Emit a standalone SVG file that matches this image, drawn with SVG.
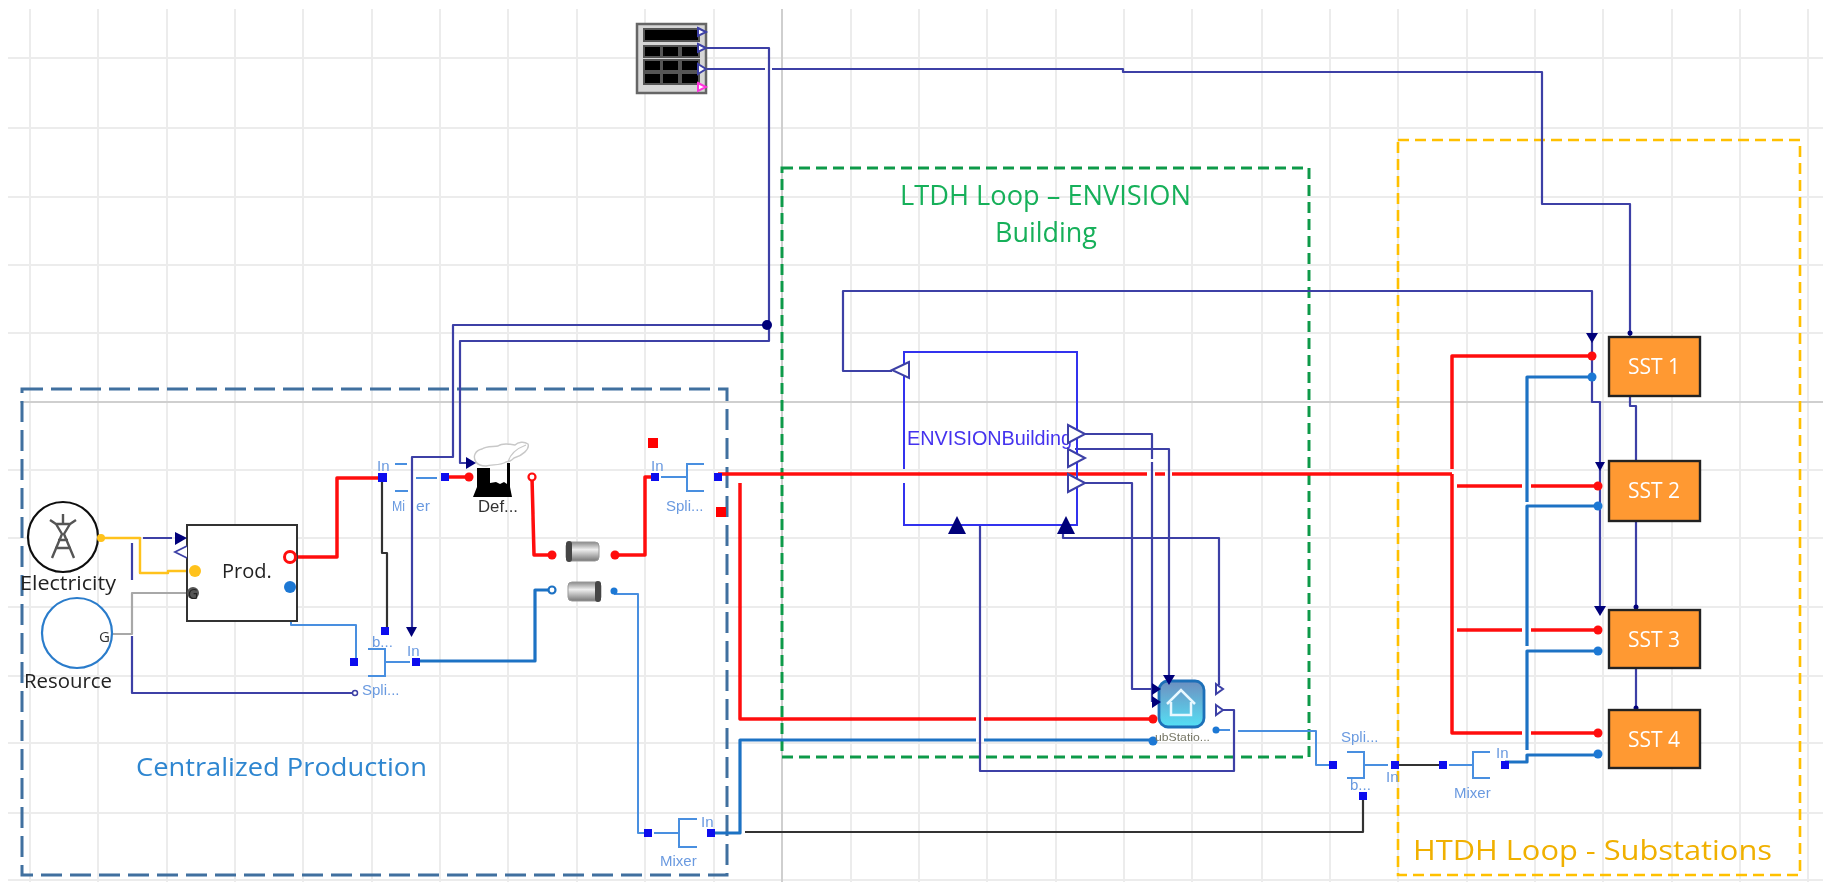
<svg xmlns="http://www.w3.org/2000/svg" width="1823" height="882" viewBox="0 0 1823 882">
<style>
text{font-family:"Liberation Sans",Arial,sans-serif}
.g{stroke:#ececec;stroke-width:2;fill:none}
.gd{stroke:#cfcfcf;stroke-width:2;fill:none}
.c{fill:none;stroke-linejoin:round}
.red{stroke:#ff0a0a;stroke-width:3.5}
.blue{stroke:#1f72c4;stroke-width:3.2}
.lb{stroke:#4a8fe0;stroke-width:2}
.dk{stroke:#3c40a6;stroke-width:2.2}
.bk{stroke:#333;stroke-width:2.2}
.yl{stroke:#ffc21a;stroke-width:2.4}
.gy{stroke:#a8a8a8;stroke-width:2.2}
.sq{fill:#0808ee}
.lab{fill:#6a9ae0;font-size:15px}
.hol{fill:#fff;stroke:#3c40a6;stroke-width:2}
.fil{fill:#00007a}
.br{fill:none;stroke:#4a8fe0;stroke-width:2}
.sst{fill:#ff9933;stroke:#222;stroke-width:2.4}
.sstt{fill:#fff;font-size:21px;text-anchor:middle;font-family:"Open Sans",sans-serif}
.cal{font-family:"Open Sans",sans-serif}
.rd{fill:#ff0a0a}.bd{fill:#1f78d4}
</style>
<defs>
<linearGradient id="pipeg" x1="0" y1="0" x2="0" y2="1"><stop offset="0" stop-color="#8a8a8a"/><stop offset="0.4" stop-color="#eeeeee"/><stop offset="1" stop-color="#777"/></linearGradient>
<linearGradient id="houseg" x1="0" y1="0" x2="0" y2="1"><stop offset="0" stop-color="#6d8fc0"/><stop offset="1" stop-color="#55e0f5"/></linearGradient>
<filter id="soft" filterUnits="userSpaceOnUse" x="0" y="0" width="1823" height="882"><feGaussianBlur stdDeviation="0.5"/></filter>
</defs>
<rect width="1823" height="882" fill="#fff"/>
<g id="diagram" filter="url(#soft)">
<g id="grid">
<path class="g" d="M30 9V882M98 9V882M167 9V882M235 9V882M303 9V882M372 9V882M440 9V882M508 9V882M577 9V882M645 9V882M714 9V882M851 9V882M919 9V882M987 9V882M1056 9V882M1124 9V882M1192 9V882M1262 9V882M1330 9V882M1398 9V882M1467 9V882M1535 9V882M1603 9V882M1672 9V882M1740 9V882M1808 9V882"/>
<path class="g" d="M8 58H1823M8 128H1823M8 197H1823M8 265H1823M8 333H1823M8 470H1823M8 538H1823M8 607H1823M8 676H1823M8 743H1823M8 813H1823M8 880H1823"/>
<path class="gd" d="M782 9V882M20 402H1823"/>
</g>
<g id="regions" fill="none">
<path id="region-production" d="M22 389H727V875H22Z" stroke="#3f6f9f" stroke-width="3" stroke-dasharray="21 8"/>
<path id="region-ltdh" d="M782 168H1309V757H782Z" stroke="#0f9a4a" stroke-width="3" stroke-dasharray="11 6"/>
<path id="region-htdh" d="M1398 140H1800V875H1398Z" stroke="#ffc000" stroke-width="2.600" stroke-dasharray="11 6"/>
</g>
<g id="connectors">
<path class="c yl" d="M103 538H140V573H168V571H192"/>
<path class="c gy" d="M105 634H132V593H190"/>
<path class="c dk" d="M143 538H172M132 543V580M132 636V693H353"/>
<path class="c red" d="M296 557H337V478H382"/>
<path class="c bk" d="M382 478V553H387V630"/>
<path class="c lb" d="M291 590V625H356V660"/>
<path class="c blue" d="M416 661H535V590H548"/>
<path class="c red" d="M445 477H468"/>
<path class="c red" d="M532 477L534 555H550"/>
<path class="c red" d="M616 555H645V477H655"/>
<path class="c lb" d="M614 594H638V833H650"/>
<path class="c red" d="M718 474H1147M1155 474H1165M1172 474H1452"/>
<path class="c red" d="M1592 356H1452V469M1452 474V733H1522M1531 733H1596M1457 486H1522M1531 486H1596M1457 630H1522M1531 630H1596"/>
<path class="c red" d="M740 483V719H976M984 719H1153"/>
<path class="c blue" d="M711 833H740V740H976M984 740H1153"/>
<path class="c blue" d="M1505 762H1527V755H1596M1527 750V651H1596M1527 646V506H1596M1527 502V377H1590"/>
<path class="c lb" d="M1216 730H1230M1238 731H1316V765H1332"/>
<path class="c bk" d="M1395 765H1443M1363 796V832H745"/>
<path class="c dk" d="M705 48H769V341H460V463H468"/>
<path class="c dk" d="M767 325H453V457H412V628"/>
<path class="c dk" d="M705 69H765M772 69H1123V72H1542V204H1630V337"/>
<path class="c dk" d="M892 371H843V291H1592V402H1600V608"/>
<path class="c dk" d="M1630 396V406H1636V461M1636 521V610M1636 668V710"/>
<path class="c dk" d="M1085 434H1152V459M1152 462V702"/>
<path class="c dk" d="M1075 449H1169V675"/>
<path class="c dk" d="M1085 483H1132V689H1153"/>
<path class="c dk" d="M960 525H980V771H1234V710H1222"/>
<path class="c dk" d="M1063 534V538H1219V685"/>
<circle cx="767" cy="325" r="5" class="fil"/>
</g>
<g id="electricity">
<circle cx="63" cy="537" r="35" fill="#fff" stroke="#111" stroke-width="2.200"/>
<path d="M50 520L56 524H70L76 520M56 524L62 534L52 558M70 524L64 534L74 558M55 548H71M58 540H68M63 514V524" fill="none" stroke="#555" stroke-width="2.400"/>
<circle cx="101" cy="538" r="4" fill="#ffc21a"/>
<text x="20" y="590" font-size="20" textLength="96" lengthAdjust="spacingAndGlyphs" class="cal" fill="#222">Electricity</text>
</g>
<g id="resource">
<circle cx="77" cy="633" r="35" fill="#fff" stroke="#2a7ccb" stroke-width="2.200"/>
<text x="99" y="642" font-size="15" class="cal" fill="#333">G</text>
<text x="24" y="688" font-size="20" textLength="88" lengthAdjust="spacingAndGlyphs" class="cal" fill="#222">Resource</text>
</g>
<g id="prod">
<rect x="187" y="525" width="110" height="96" fill="#fff" stroke="#333" stroke-width="2"/>
<text x="222" y="578" font-size="20" class="cal" fill="#222">Prod.</text>
<path class="fil" d="M175 532L187 538L175 545Z"/>
<path d="M187 546L175 552L187 558" fill="#fff" stroke="#3c40a6" stroke-width="1.800"/>
<circle cx="195" cy="571" r="6" fill="#ffc21a"/>
<circle cx="193" cy="593" r="6" fill="#555"/>
<text x="188" y="599" font-size="14" class="cal" fill="#222">G</text>
<circle cx="290" cy="557" r="5.500" fill="#fff" stroke="#ff0a0a" stroke-width="3"/>
<circle cx="290" cy="587" r="6" class="bd"/>
<circle cx="355" cy="693" r="2.500" fill="#fff" stroke="#3c40a6" stroke-width="1.500"/>
<path class="fil" d="M406 627H417L411.500 637Z"/>
</g>
<g id="mixer-1">
<rect x="378" y="473" width="9" height="9" class="sq"/>
<text x="377" y="471" class="lab">In</text>
<path class="br" d="M395 464H407M416 478H437M395 491H408"/>
<text x="392" y="511" class="lab" textLength="13" lengthAdjust="spacingAndGlyphs">Mi</text>
<text x="416" y="511" class="lab" textLength="14" lengthAdjust="spacingAndGlyphs">er</text>
<rect x="441" y="473" width="8" height="8" class="sq"/>
</g>
<g id="split-1">
<rect x="381" y="627" width="8" height="8" class="sq"/>
<rect x="350" y="658" width="8" height="8" class="sq"/>
<rect x="412" y="658" width="8" height="8" class="sq"/>
<path class="br" d="M368 649H385V676H368M385 662H410"/>
<text x="372" y="647" class="lab">b...</text>
<text x="407" y="656" class="lab">In</text>
<text x="362" y="695" class="lab">Spli...</text>
</g>
<g id="def">
<path d="M473 497L477 487V468H490V483L496 482L500 484L504 482L507 484V463H510V487L512 497Z" fill="#000"/>
<path d="M476 462C472 456 476 450 482 449C486 446 494 447 498 446C502 443 510 444 515 445C518 442 524 441 528 444C530 449 522 456 514 458C510 462 508 462 506 462C500 466 492 464 486 466C482 466 478 465 476 462Z" fill="#fff" stroke="#c8c8c8" stroke-width="1.400"/>
<path d="M508 462C510 454 518 448 526 445" fill="none" stroke="#c8c8c8" stroke-width="1.200"/>
<path class="fil" d="M466 457L476 463L466 469Z"/>
<circle cx="469" cy="477" r="4.500" class="rd"/>
<circle cx="532" cy="477" r="3.500" fill="#fff" stroke="#ff0a0a" stroke-width="2.200"/>
<text x="478" y="512" font-size="16" fill="#333" textLength="40" lengthAdjust="spacingAndGlyphs">Def...</text>
</g>
<g id="pipe-1">
<rect x="566" y="542" width="33" height="19" rx="4" fill="url(#pipeg)" stroke="#999"/>
<rect x="566" y="541" width="6" height="21" rx="3" fill="#444"/>
<circle cx="552" cy="555" r="4.500" class="rd"/>
<circle cx="615" cy="555" r="4.500" class="rd"/>
</g>
<g id="pipe-2">
<rect x="568" y="582" width="33" height="19" rx="4" fill="url(#pipeg)" stroke="#999"/>
<rect x="595" y="581" width="6" height="21" rx="3" fill="#444"/>
<circle cx="552" cy="590" r="3.500" fill="#fff" stroke="#1f72c4" stroke-width="2.200"/>
<circle cx="614" cy="591" r="3.500" class="bd"/>
</g>
<g id="split-2">
<rect x="651" y="473" width="8" height="8" class="sq"/>
<rect x="714" y="473" width="8" height="8" class="sq"/>
<path class="br" d="M661 477H687M704 464H687V491H704"/>
<text x="651" y="471" class="lab">In</text>
<text x="666" y="511" class="lab">Spli...</text>
<rect x="648" y="438" width="10" height="10" fill="#f00"/>
<rect x="716" y="507" width="10" height="10" fill="#f00"/>
</g>
<g id="mixer-2">
<rect x="644" y="829" width="8" height="8" class="sq"/>
<rect x="707" y="829" width="8" height="8" class="sq"/>
<path class="br" d="M654 833H679M697 819H679V847H697"/>
<text x="701" y="827" class="lab">In</text>
<text x="660" y="866" class="lab">Mixer</text>
</g>
<g id="data-source">
<rect x="637" y="24" width="69" height="69" fill="#d6d6d6" stroke="#666" stroke-width="2.500"/>
<rect x="644" y="29" width="55" height="12" fill="#000" stroke="#555" stroke-width="2"/>
<g fill="#000" stroke="#555" stroke-width="2">
<rect x="644" y="46" width="17" height="11"/><rect x="662" y="46" width="17" height="11"/><rect x="681" y="46" width="18" height="11"/>
<rect x="644" y="60" width="17" height="11"/><rect x="662" y="60" width="17" height="11"/><rect x="681" y="60" width="18" height="11"/>
<rect x="644" y="73" width="17" height="11"/><rect x="662" y="73" width="17" height="11"/><rect x="681" y="73" width="18" height="11"/>
</g>
<path class="hol" d="M698 28L706 32L698 36Z"/>
<path class="hol" d="M698 44L706 48L698 52Z"/>
<path class="hol" d="M698 64L706 69L698 74Z"/>
<path d="M698 83L706 87L698 91Z" fill="#fff" stroke="#ff33dd" stroke-width="2"/>
</g>
<g id="envision">
<path d="M904 469V352H1077V525H904V483" fill="none" stroke="#3333ee" stroke-width="2"/>
<text x="907" y="445" font-size="20.500" fill="#4433ee" textLength="165" lengthAdjust="spacingAndGlyphs">ENVISIONBuilding</text>
<path class="hol" d="M909 362L892 370L909 378Z"/>
<path class="hol" d="M1068 425L1085 434L1068 443Z"/>
<path class="hol" d="M1068 449L1085 458L1068 467Z"/>
<path class="hol" d="M1068 474L1085 483L1068 492Z"/>
<path class="fil" d="M957 516L966 534H948Z"/>
<path class="fil" d="M1066 516L1075 534H1057Z"/>
</g>
<g id="substation">
<rect x="1159" y="681" width="45" height="46" rx="9" fill="url(#houseg)" stroke="#1f6fb8" stroke-width="2.800"/>
<path d="M1167 704L1181 690L1195 704M1171 702V715H1191V702" fill="none" stroke="#e8f8ff" stroke-width="2.500"/>
<path class="fil" d="M1152 683L1161 689L1152 695ZM1152 696L1161 702L1152 708ZM1163 675H1175L1169 685Z"/>
<circle cx="1153" cy="719" r="4.500" class="rd"/>
<circle cx="1153" cy="741" r="4.500" class="bd"/>
<path d="M1216 684L1223 689L1216 694Z" class="hol" stroke-width="1.500"/>
<path d="M1216 705L1223 710L1216 715Z" class="hol" stroke-width="1.500"/>
<circle cx="1216" cy="730" r="3.500" class="bd"/>
<text x="1155" y="741" font-size="11" fill="#776" textLength="55" lengthAdjust="spacingAndGlyphs">ubStatio...</text>
</g>
<g id="split-3">
<rect x="1329" y="761" width="8" height="8" class="sq"/>
<rect x="1391" y="761" width="8" height="8" class="sq"/>
<rect x="1359" y="792" width="8" height="8" class="sq"/>
<path class="br" d="M1347 752H1364V778H1347M1364 765H1388"/>
<text x="1341" y="742" class="lab">Spli...</text>
<text x="1386" y="782" class="lab">In</text>
<text x="1350" y="790" class="lab">b...</text>
</g>
<g id="mixer-3">
<rect x="1439" y="761" width="8" height="8" class="sq"/>
<rect x="1501" y="761" width="8" height="8" class="sq"/>
<path class="br" d="M1449 765H1473M1490 752H1473V778H1490"/>
<text x="1496" y="758" class="lab">In</text>
<text x="1454" y="798" class="lab">Mixer</text>
</g>
<g id="sst-1">
<path class="fil" d="M1586 333H1598L1592 343Z"/>
<circle cx="1630" cy="333" r="2.500" class="fil"/>
<rect class="sst" x="1609" y="337" width="91" height="59"/>
<text class="sstt" x="1654" y="374">SST 1</text>
<circle cx="1592" cy="356" r="4.500" class="rd"/>
<circle cx="1592" cy="377" r="4.500" class="bd"/>
</g>
<g id="sst-2">
<path class="fil" d="M1595 462H1605L1600 471Z"/>
<rect class="sst" x="1609" y="461" width="91" height="60"/>
<text class="sstt" x="1654" y="498">SST 2</text>
<circle cx="1598" cy="486" r="4.500" class="rd"/>
<circle cx="1598" cy="506" r="4.500" class="bd"/>
</g>
<g id="sst-3">
<path class="fil" d="M1594 606H1606L1600 616Z"/>
<circle cx="1636" cy="607" r="2.500" class="fil"/>
<rect class="sst" x="1609" y="610" width="91" height="58"/>
<text class="sstt" x="1654" y="647">SST 3</text>
<circle cx="1598" cy="630" r="4.500" class="rd"/>
<circle cx="1598" cy="651" r="4.500" class="bd"/>
</g>
<g id="sst-4">
<circle cx="1636" cy="708" r="2.500" class="fil"/>
<rect class="sst" x="1609" y="710" width="91" height="58"/>
<text class="sstt" x="1654" y="747">SST 4</text>
<circle cx="1598" cy="733" r="4.500" class="rd"/>
<circle cx="1598" cy="754" r="4.500" class="bd"/>
</g>
<g id="titles" class="cal">
<text x="136" y="776" font-size="26" fill="#2e86d0" class="cal" textLength="291" lengthAdjust="spacingAndGlyphs">Centralized Production</text>
<text x="900" y="205" font-size="27" fill="#19b05a" class="cal" textLength="291" lengthAdjust="spacingAndGlyphs">LTDH Loop – ENVISION</text>
<text x="995" y="242" font-size="27" fill="#19b05a" class="cal" textLength="102" lengthAdjust="spacingAndGlyphs">Building</text>
<text x="1413" y="860" font-size="28" fill="#f0b000" class="cal" textLength="359" lengthAdjust="spacingAndGlyphs">HTDH Loop - Substations</text>
</g>
</g>
</svg>
